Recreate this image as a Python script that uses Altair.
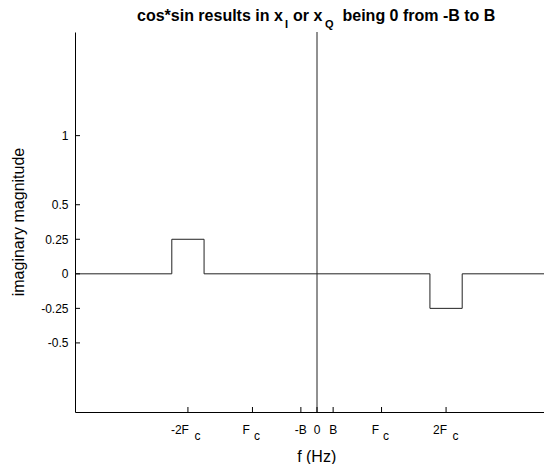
import altair as alt
import pandas as pd

# ---- data ----
x_tick_pos = [-8, -4, -1, 0, 1, 4, 8]
x_tick_main = ["-2F", "F", "-B", "0", "B", "F", "2F"]
x_tick_sub = ["c", "c", "", "", "", "c", "c"]
y_tick_vals = [-0.5, -0.25, 0, 0.25, 0.5, 1]
sig_f = [-15, -9, -9, -7, -7, 7, 7, 9, 9, 15]
sig_v = [0, 0, 0.25, 0.25, 0, 0, -0.25, -0.25, 0, 0]
title_parts = ["cos*sin results in x", "I", "or x", "Q", "being 0 from -B to B"]
x_title = ["f (Hz)"]
y_title = ["imaginary magnitude"]

FONT = "Liberation Sans"
W, H = 469, 380
xs = alt.Scale(domain=[-15, 14.07], nice=False, zero=False)
ys = alt.Scale(domain=[-1, 1.75], nice=False, zero=False)

x_axis = alt.Axis(labels=False, ticks=False, grid=False, title=None,
                  domainColor="black", domainWidth=1)
y_axis = alt.Axis(values=y_tick_vals, labelExpr="'' + datum.value", ticks=False, grid=False,
                  title=None, labelPadding=7, labelFont=FONT, labelFontSize=12,
                  labelColor="black", domainColor="black", domainWidth=1)

sig = pd.DataFrame({"f": sig_f, "v": sig_v, "i": list(range(len(sig_f)))})

line = alt.Chart(sig).mark_line(color="#222", strokeWidth=1, clip=True).encode(
    x=alt.X("f:Q", scale=xs, axis=x_axis),
    y=alt.Y("v:Q", scale=ys, axis=y_axis),
    order="i:O",
)

vline = alt.Chart(pd.DataFrame({"f": [0]})).mark_rule(color="#222", strokeWidth=1).encode(
    x=alt.X("f:Q", scale=xs, axis=x_axis)
)

xt = pd.DataFrame({"p": x_tick_pos, "main": x_tick_main, "sub": x_tick_sub})
xt["kind"] = ["plain" if s == "" else ("two" if m.endswith("2F") else "one")
              for m, s in zip(x_tick_main, x_tick_sub)]

xticks = alt.Chart(xt).mark_rule(color="black").encode(
    x=alt.X("p:Q", scale=xs, axis=x_axis), y=alt.value(H), y2=alt.value(H - 5)
)
yt = pd.DataFrame({"p": y_tick_vals})
yticks = alt.Chart(yt).mark_rule(color="black").encode(
    y=alt.Y("p:Q", scale=ys, axis=y_axis), x=alt.value(0), x2=alt.value(5)
)

MAIN_Y = H + 21.5
SUB_Y = H + 27.5


def lab(kind, field, align, dx, yv):
    return alt.Chart(xt).transform_filter(alt.datum.kind == kind).mark_text(
        align=align, baseline="alphabetic", dx=dx, font=FONT, fontSize=12, color="black"
    ).encode(x=alt.X("p:Q", scale=xs, axis=x_axis), y=alt.value(yv), text=f"{field}:N")


labels = [
    lab("plain", "main", "center", 0, MAIN_Y),
    lab("one", "main", "right", -2.5, MAIN_Y),
    lab("one", "sub", "left", 1.5, SUB_Y),
    lab("two", "main", "right", 1, MAIN_Y),
    lab("two", "sub", "left", 6.5, SUB_Y),
]

# title pieces (pixel offsets relative to plot origin)
tx = [62, 210, 218, 250, 267.5]
ty = [-11.5, -4, -11.5, -4, -11.5]
tsize = [16, 11, 16, 11, 16]
titles = []
for t, x, y, s in zip(title_parts, tx, ty, tsize):
    titles.append(
        alt.Chart(pd.DataFrame({"t": [t]})).mark_text(
            align="left", baseline="alphabetic", font=FONT, fontSize=s,
            fontWeight="bold", color="black"
        ).encode(x=alt.value(x), y=alt.value(y), text="t:N")
    )

xlab = alt.Chart(pd.DataFrame({"t": x_title})).mark_text(
    align="center", baseline="alphabetic", font=FONT, fontSize=16, color="black"
).encode(x=alt.value(241.7), y=alt.value(429.5), text="t:N")

ylab = alt.Chart(pd.DataFrame({"t": y_title})).mark_text(
    align="center", baseline="middle", font=FONT, fontSize=16, color="black", angle=270
).encode(x=alt.value(-56), y=alt.value(190), text="t:N")

chart = alt.layer(line, vline, xticks, yticks, *labels, *titles, xlab, ylab).properties(
    width=W, height=H, autosize="none",
    padding={"left": 67, "top": 24, "right": 0, "bottom": 52},
).configure_view(stroke=None)

chart.save("out.html", embed_options={"renderer": "svg", "actions": False})
